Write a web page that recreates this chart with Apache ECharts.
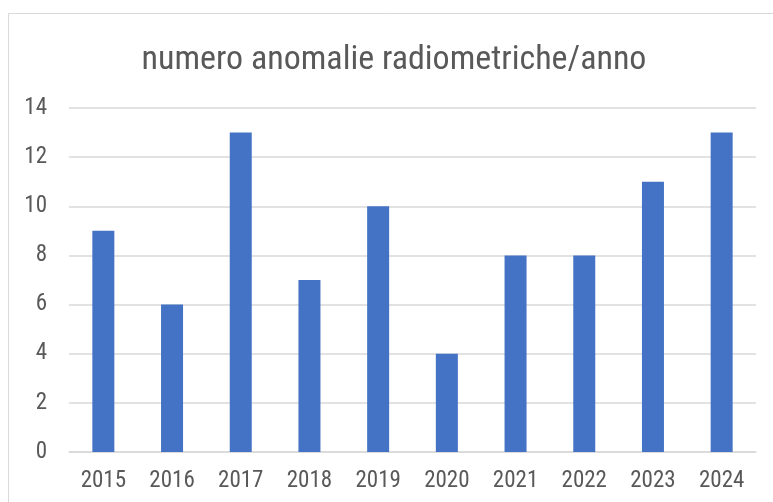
<!DOCTYPE html>
<html>
<head>
<meta charset="utf-8">
<script src="https://cdn.jsdelivr.net/npm/echarts@6/dist/echarts.min.js"></script>
<style>
  html, body { margin: 0; padding: 0; background: #fff; }
  #chart { width: 773px; height: 502px; }
</style>
</head>
<body>
<div id="chart"></div>
<script>
// dati
var anni = ['2015', '2016', '2017', '2018', '2019', '2020', '2021', '2022', '2023', '2024'];
var anomalie = [9, 6, 13, 7, 10, 4, 8, 8, 11, 13];
var yTicks = [0, 2, 4, 6, 8, 10, 12, 14];

var font = '"Liberation Sans Narrow", "Roboto Condensed", "DejaVu Sans Condensed", sans-serif';

var chart = echarts.init(document.getElementById('chart'));
chart.setOption({
  animation: false,
  textStyle: { fontFamily: font, color: '#595959' },
  graphic: [{
    type: 'rect',
    shape: { x: 8.5, y: 13.5, width: 900, height: 600 },
    style: { fill: 'none', stroke: '#d9d9d9', lineWidth: 1 },
    silent: true
  }],
  title: {
    text: 'numero anomalie radiometriche/anno',
    left: 389,
    top: 38,
    textAlign: 'center',
    textStyle: { fontFamily: font, fontSize: 34, fontWeight: 'normal', color: '#595959' }
  },
  grid: { left: 69, right: 17, top: 108, bottom: 50 },
  xAxis: {
    type: 'category',
    data: anni,
    axisLine: { lineStyle: { color: '#d9d9d9', width: 1.5 } },
    axisTick: { show: false },
    axisLabel: { color: '#595959', fontSize: 23, fontFamily: font, margin: 18 }
  },
  yAxis: {
    type: 'value',
    min: yTicks[0],
    max: yTicks[yTicks.length - 1],
    interval: 2,
    axisLine: { show: false },
    axisTick: { show: false },
    splitLine: { lineStyle: { color: '#d9d9d9', width: 1.5 } },
    axisLabel: { color: '#595959', fontSize: 23, fontFamily: font, margin: 22 }
  },
  series: [{
    type: 'bar',
    data: anomalie,
    barWidth: 22,
    itemStyle: { color: '#4472C4' }
  }]
});
</script>
</body>
</html>
